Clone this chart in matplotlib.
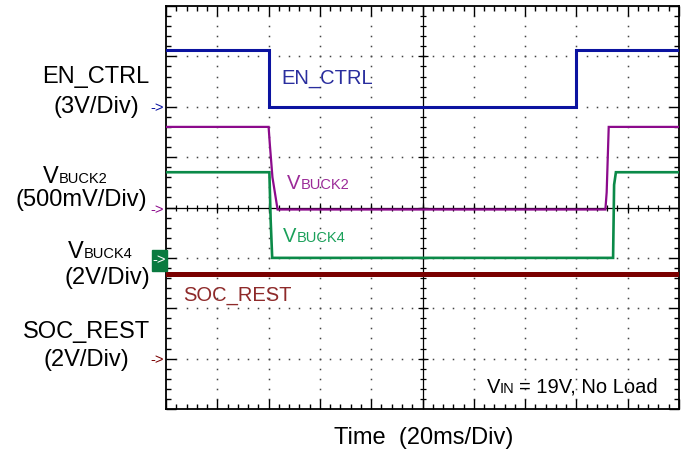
#!/usr/bin/env python
import numpy as np
import matplotlib
matplotlib.use("Agg")
import matplotlib.pyplot as plt
from matplotlib.patches import Rectangle

plt.rcParams['font.family'] = ['Liberation Sans', 'DejaVu Sans']

# time in ms (20 ms/div, 10 divisions), levels in volts
en_ctrl_t = [0, 40, 40, 160, 160, 200]
en_ctrl_v = [3.4, 3.4, 0.0, 0.0, 3.4, 3.4]

vbuck2_t = [0, 40, 40.5, 41.5, 43.5, 171.3, 171.8, 172.6, 200]
vbuck2_v = [0.80, 0.80, 0.62, 0.30, -0.02, -0.02, 0.15, 0.80, 0.80]

vbuck4_t = [0, 40.3, 40.8, 41.4, 174.3, 174.7, 175.4, 200]
vbuck4_v = [3.4, 3.4, 1.5, 0.0, 0.0, 2.9, 3.4, 3.4]

soc_rest_t = [0, 200]
soc_rest_v = [3.37, 3.37]

# volts per division and ground offset (divisions from centre)
scales = {'EN_CTRL': 3.0, 'VBUCK2': 0.5, 'VBUCK4': 2.0, 'SOC_REST': 2.0}
offsets = {'EN_CTRL': 2, 'VBUCK2': 0, 'VBUCK4': -1, 'SOC_REST': -3}
colors = {'EN_CTRL': '#0b13a0', 'VBUCK2': '#8c0a8c', 'VBUCK4': '#0b8a48', 'SOC_REST': '#7a0000'}
text_colors = {'EN_CTRL': '#2a2e9e', 'VBUCK2': '#9b2a98', 'VBUCK4': '#1aa05a', 'SOC_REST': '#8e2a2a'}

W, H = 688, 452
fig = plt.figure(figsize=(W / 100, H / 100), dpi=100)
ax = fig.add_axes([166 / W, 1 - 410 / H, 513 / W, 403 / H])
ax.set_xlim(0, 200)
ax.set_ylim(-4, 4)

# graticule
ax.set_xticks(np.arange(0, 201, 20))
ax.set_xticks(np.arange(0, 201, 4), minor=True)
ax.set_yticks(np.arange(-4, 5, 1))
ax.set_yticks(np.arange(-4, 4.01, 0.2), minor=True)
ax.tick_params(which='both', direction='in', top=True, right=True,
               labelbottom=False, labelleft=False, color='black', width=1)
ax.tick_params(which='major', length=7)
ax.tick_params(which='minor', length=3.5)
for sp in ax.spines.values():
    sp.set_linewidth(1.3)

ydots = np.arange(-3.8, 3.81, 0.2)
for xv in [20, 40, 60, 80, 120, 140, 160, 180]:
    ax.plot(np.full_like(ydots, xv), ydots, 's', ms=1.1, color='#444444', mew=0, zorder=1)
xdots = np.arange(4, 197, 4)
for yv in [-3, -2, -1, 1, 2, 3]:
    ax.plot(xdots, np.full_like(xdots, yv, dtype=float), 's', ms=1.1, color='#444444', mew=0, zorder=1)

ax.axvline(100, color='black', lw=0.9, zorder=1)
ax.axhline(0, color='black', lw=0.9, zorder=1)
yt = np.arange(-3.8, 3.81, 0.2)
ax.plot(np.full_like(yt, 100), yt, '_', ms=5, color='black', mew=0.9, zorder=1)
ax.plot(np.full(7, 100.0), np.arange(-3, 4, 1), '_', ms=7, color='black', mew=0.9, zorder=1)
xt = np.arange(4, 197, 4)
ax.plot(xt, np.zeros_like(xt, dtype=float), '|', ms=5, color='black', mew=0.9, zorder=1)
ax.plot(np.arange(20, 181, 20), np.zeros(9), '|', ms=7, color='black', mew=0.9, zorder=1)

# traces
traces = [('SOC_REST', soc_rest_t, soc_rest_v, 3.6),
          ('VBUCK4', vbuck4_t, vbuck4_v, 1.9),
          ('VBUCK2', vbuck2_t, vbuck2_v, 1.6),
          ('EN_CTRL', en_ctrl_t, en_ctrl_v, 2.2)]
for name, t, v, lw in traces:
    y = np.array(v) / scales[name] + offsets[name]
    ax.plot(t, y, color=colors[name], lw=lw, solid_joinstyle='miter', zorder=3)


def ftext(x, y, s, **kw):
    kw.setdefault('va', 'baseline')
    return fig.text(x / W, 1 - y / H, s, **kw)


def vsub(x, y, sub, size, subsize, color):
    ftext(x, y, 'V', size=size, color=color)
    xs = x + 0.667 * size * 100 / 72 + 0.5
    ftext(xs, y, sub, size=subsize, color=color)


BIG = 17
SUB = 10.5
# left-hand channel labels
ftext(96, 83.3, 'EN_CTRL', size=BIG, ha='center')
ftext(96, 113, '(3V/Div)', size=BIG, ha='center')
vsub(43, 182.7, 'BUCK2', BIG, SUB, 'black')
ftext(81, 206.5, '(500mV/Div)', size=BIG, ha='center')
vsub(68, 258, 'BUCK4', BIG, SUB, 'black')
ftext(107, 284, '(2V/Div)', size=BIG, ha='center')
ftext(86, 337.7, 'SOC_REST', size=BIG, ha='center')
ftext(86, 366, '(2V/Div)', size=BIG, ha='center')

# in-graph labels
MID = 14.5
ftext(281, 83.3, 'EN_CTRL', size=MID, color=text_colors['EN_CTRL'])
vsub(287, 189.3, 'BUCK2', MID, SUB, text_colors['VBUCK2'])
vsub(283, 241.7, 'BUCK4', MID, SUB, text_colors['VBUCK4'])
ftext(183, 301, 'SOC_REST', size=MID, color=text_colors['SOC_REST'])
ftext(487, 392.7, 'V', size=MID)
ftext(500, 392.7, 'IN', size=SUB)
ftext(519, 392.7, '= 19V, No Load', size=MID)

ftext(424, 444, 'Time  (20ms/Div)', size=BIG, ha='center')

# ground markers
for name, ypx in [('EN_CTRL', 108), ('VBUCK2', 210), ('SOC_REST', 360)]:
    ftext(164, ypx, '->', size=10.5, color=colors[name], ha='right', va='center')
fig.patches.append(Rectangle((152 / W, 1 - 272 / H), 14.5 / W, 21 / H,
                             transform=fig.transFigure, color='#0a7a40'))
ftext(159.5, 260.5, '->', size=10.5, color='white', ha='center', va='center')

fig.savefig('out.png', dpi=100)
